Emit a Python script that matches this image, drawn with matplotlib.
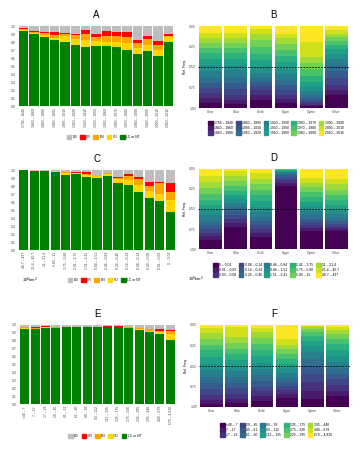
import numpy as np
import matplotlib.pyplot as plt
from matplotlib.patches import Patch

plt.rcParams['font.family'] = ['Liberation Sans', 'DejaVu Sans']

# IUCN categories (bottom -> top of stack)
status = ["LC or NT", "VU", "EN", "CR", "DD"]
status_colors = ["#008000", "#FFD700", "#FFA500", "#FF0000", "#BEBEBE"]
legend_order = ["DD", "CR", "EN", "VU", "LC or NT"]

groups = ["Char", "Silur", "Cichl", "Cypri", "Gymn", "Other"]

# ---- panel A / B : description period
periods = ["1758 – 1840", "1840 – 1860", "1860 – 1880", "1880 – 1895", "1895 – 1910",
           "1910 – 1920", "1920 – 1930", "1930 – 1950", "1950 – 1960", "1960 – 1970",
           "1970 – 1980", "1980 – 1990", "1990 – 2000", "2000 – 2010", "2010 – 2016"]
# cumulative tops per bar: LC/NT, VU, EN, CR (DD fills to 1)
a_lc = [0.937, 0.900, 0.862, 0.824, 0.795, 0.766, 0.732, 0.749, 0.750, 0.736, 0.700, 0.644, 0.686, 0.620, 0.800]
a_vu = [0.950, 0.916, 0.890, 0.850, 0.880, 0.833, 0.820, 0.810, 0.800, 0.795, 0.787, 0.724, 0.766, 0.700, 0.862]
a_en = [0.958, 0.925, 0.910, 0.890, 0.900, 0.883, 0.900, 0.862, 0.874, 0.870, 0.862, 0.787, 0.840, 0.757, 0.874]
a_cr = [0.970, 0.932, 0.930, 0.920, 0.910, 0.904, 0.954, 0.904, 0.937, 0.920, 0.920, 0.828, 0.880, 0.816, 0.900]

b_props = {
    "Char":  [0.065, 0.05, 0.06, 0.06, 0.06, 0.07, 0.08, 0.07, 0.07, 0.07, 0.07, 0.06, 0.06, 0.05, 0.09],
    "Silur": [0.05, 0.05, 0.06, 0.07, 0.07, 0.08, 0.08, 0.07, 0.07, 0.07, 0.06, 0.06, 0.06, 0.06, 0.09],
    "Cichl": [0.10, 0.06, 0.05, 0.05, 0.05, 0.05, 0.06, 0.07, 0.08, 0.08, 0.08, 0.08, 0.08, 0.06, 0.03],
    "Cypri": [0.06, 0.05, 0.05, 0.06, 0.06, 0.06, 0.07, 0.07, 0.08, 0.08, 0.07, 0.07, 0.07, 0.05, 0.10],
    "Gymn":  [0.02, 0.02, 0.02, 0.03, 0.03, 0.04, 0.05, 0.05, 0.06, 0.07, 0.08, 0.08, 0.07, 0.19, 0.19],
    "Other": [0.16, 0.06, 0.06, 0.08, 0.09, 0.08, 0.07, 0.06, 0.06, 0.05, 0.05, 0.04, 0.04, 0.05, 0.05],
}

# ---- panel C / D : range size (10^6 km^2)
ranges = ["0 – 0.01", "0.01 – 0.03", "0.03 – 0.08", "0.08 – 0.14", "0.14 – 0.24",
          "0.24 – 0.46", "0.46 – 0.84", "0.84 – 1.51", "1.51 – 2.41", "2.41 – 3.75",
          "3.75 – 5.80", "5.80 – 11", "11 – 21.4", "21.4 – 40.7", "40.7 – 437"]
c_labels = ranges[::-1]
c_lc = [0.995, 0.975, 0.988, 0.975, 0.938, 0.954, 0.912, 0.900, 0.925, 0.833, 0.817, 0.730, 0.646, 0.617, 0.480]
c_vu = [0.995, 0.975, 0.988, 0.983, 0.958, 0.960, 0.940, 0.930, 0.950, 0.883, 0.875, 0.810, 0.742, 0.700, 0.625]
c_en = [0.995, 0.975, 0.988, 0.983, 0.970, 0.967, 0.954, 0.930, 0.967, 0.900, 0.925, 0.887, 0.804, 0.833, 0.725]
c_cr = [0.995, 0.982, 0.988, 0.983, 0.970, 0.975, 0.970, 0.930, 0.967, 0.908, 0.946, 0.908, 0.846, 0.854, 0.833]

d_props = {
    "Char":  [0.125, 0.055, 0.04, 0.05, 0.05, 0.06, 0.07, 0.07, 0.07, 0.07, 0.07, 0.08, 0.08, 0.09, 0.09],
    "Silur": [0.27, 0.05, 0.05, 0.05, 0.05, 0.05, 0.05, 0.05, 0.05, 0.06, 0.06, 0.06, 0.06, 0.06, 0.03],
    "Cichl": [0.15, 0.05, 0.05, 0.05, 0.05, 0.05, 0.06, 0.07, 0.07, 0.07, 0.07, 0.07, 0.07, 0.07, 0.05],
    "Cypri": [0.79, 0.04, 0.03, 0.03, 0.03, 0.02, 0.02, 0.01, 0.01, 0.01, 0.005, 0.005, 0.0, 0.0, 0.0],
    "Gymn":  [0.22, 0.04, 0.04, 0.04, 0.04, 0.05, 0.05, 0.05, 0.06, 0.06, 0.06, 0.06, 0.06, 0.06, 0.11],
    "Other": [0.22, 0.03, 0.03, 0.03, 0.04, 0.04, 0.05, 0.05, 0.06, 0.06, 0.06, 0.07, 0.07, 0.07, 0.12],
}

# ---- panel E / F : body size
sizes = ["<40 – 7", "7 – 17", "17 – 29", "29 – 45", "45 – 61", "61 – 80", "80 – 93",
         "93 – 112", "112 – 135", "135 – 175", "175 – 226", "226 – 295", "295 – 440",
         "440 – 679", "679 – 4,910"]
e_lc = [0.945, 0.945, 0.962, 0.960, 0.970, 0.970, 0.970, 0.970, 0.970, 0.970, 0.958, 0.937, 0.916, 0.882, 0.810]
e_vu = [0.958, 0.955, 0.970, 0.968, 0.970, 0.970, 0.970, 0.970, 0.970, 0.970, 0.965, 0.950, 0.928, 0.910, 0.880]
e_en = [0.970, 0.967, 0.978, 0.975, 0.975, 0.975, 0.975, 0.975, 0.978, 0.978, 0.972, 0.958, 0.945, 0.930, 0.920]
e_cr = [0.980, 0.975, 0.982, 0.980, 0.978, 0.978, 0.978, 0.978, 0.982, 0.982, 0.978, 0.966, 0.953, 0.945, 0.940]

f_props = {
    "Char":  [0.04, 0.05, 0.06, 0.07, 0.07, 0.08, 0.08, 0.08, 0.08, 0.08, 0.07, 0.07, 0.07, 0.06, 0.04],
    "Silur": [0.05, 0.05, 0.06, 0.07, 0.07, 0.07, 0.07, 0.07, 0.07, 0.07, 0.07, 0.07, 0.07, 0.12, 0.03],
    "Cichl": [0.07, 0.06, 0.06, 0.06, 0.07, 0.07, 0.07, 0.08, 0.08, 0.08, 0.07, 0.07, 0.07, 0.05, 0.04],
    "Cypri": [0.11, 0.05, 0.05, 0.05, 0.05, 0.05, 0.06, 0.06, 0.06, 0.06, 0.06, 0.06, 0.05, 0.07, 0.18],
    "Gymn":  [0.10, 0.10, 0.10, 0.10, 0.10, 0.09, 0.08, 0.07, 0.07, 0.06, 0.05, 0.03, 0.02, 0.02, 0.01],
    "Other": [0.13, 0.06, 0.07, 0.07, 0.07, 0.07, 0.07, 0.07, 0.07, 0.07, 0.06, 0.06, 0.05, 0.04, 0.02],
}

W, H = 360, 453
fig = plt.figure(figsize=(W / 100, H / 100), dpi=100)
TS = 2.4


def rect(x0, y0, x1, y1):
    return [x0 / W, 1 - y1 / H, (x1 - x0) / W, (y1 - y0) / H]


def clean(ax):
    for s in ax.spines.values():
        s.set_visible(False)
    ax.tick_params(length=0, labelsize=TS, pad=1.5, colors="#444444")


def status_panel(r, title, labels, lc, vu, en, cr, leg_y, leg_title=None):
    ax = fig.add_axes(rect(*r))
    x = np.arange(len(labels))
    tops = [np.array(lc), np.array(vu), np.array(en), np.array(cr), np.ones(len(labels))]
    bottom = np.zeros(len(labels))
    for name, col, top in zip(status, status_colors, tops):
        ax.bar(x, top - bottom, bottom=bottom, width=0.88, color=col, linewidth=0)
        bottom = top
    ax.set_xlim(-0.55, len(labels) - 0.45)
    ax.set_ylim(0, 1.0)
    ax.set_yticks(np.arange(0, 1.01, 0.1))
    ax.set_yticklabels([f"{v:.1f}" for v in np.arange(0, 1.01, 0.1)])
    ax.set_xticks(x)
    ax.set_xticklabels(labels, rotation=90)
    clean(ax)
    ax.set_title(title, fontsize=7, pad=6)
    cmap = dict(zip(status, status_colors))
    handles = [Patch(color=cmap[n], label=n) for n in legend_order]
    leg = fig.legend(handles=handles, ncol=5, loc="center", bbox_to_anchor=((r[0] + r[2]) / 2 / W + 0.02, 1 - leg_y / H),
                     fontsize=TS, frameon=False, handlelength=1.4, handleheight=1.4,
                     columnspacing=0.8, handletextpad=0.4)
    if leg_title:
        fig.text(22 / W, 1 - leg_y / H, leg_title, fontsize=3, va="center")
    return ax


def freq_panel(r, title, props, cats, leg_y, leg_title=None):
    ax = fig.add_axes(rect(*r))
    cols = plt.cm.viridis(np.linspace(0, 1, len(cats)))
    x = np.arange(len(groups))
    vals = np.array([props[g] for g in groups], dtype=float)
    vals = vals / vals.sum(axis=1, keepdims=True)
    cum = np.zeros(len(groups))
    for i in range(len(cats)):
        cum = cum + vals[:, i]
        ax.bar(x, vals[:, i], bottom=1 - cum, width=0.9, color=cols[i], linewidth=0)
    ax.axhline(0.5, color="black", ls=(0, (2, 1.5)), lw=0.6)
    ax.set_ylim(1, 0)
    ax.set_xlim(-0.5, len(groups) - 0.5)
    ax.set_yticks([0, 0.25, 0.5, 0.75, 1.0])
    ax.set_yticklabels(["0.00", "0.25", "0.50", "0.75", "1.00"])
    ax.set_xticks(x)
    ax.set_xticklabels(groups)
    ax.set_ylabel("Rel. Freq.", fontsize=TS, labelpad=2)
    clean(ax)
    ax.set_title(title, fontsize=7, pad=6)
    handles = [Patch(color=cols[i], label=c) for i, c in enumerate(cats)]
    fig.legend(handles=handles, ncol=5, loc="center", bbox_to_anchor=(276 / W, 1 - leg_y / H),
               fontsize=TS, frameon=False, handlelength=1.4, handleheight=1.3,
               columnspacing=0.8, handletextpad=0.4, labelspacing=0.25)
    if leg_title:
        fig.text(188 / W, 1 - (leg_y + 9) / H, leg_title, fontsize=3, va="center")
    return ax


status_panel((18, 26, 174, 106), "A", periods, a_lc, a_vu, a_en, a_cr, 137)
freq_panel((198, 26, 349, 108), "B", b_props, periods, 128)
status_panel((18, 170, 176, 250), "C", c_labels, c_lc, c_vu, c_en, c_cr, 280, "10$^6$km$^2$")
freq_panel((198, 169, 349, 249), "D", d_props, ranges, 270, "10$^6$km$^2$")
status_panel((19, 325, 176, 404), "E", sizes, e_lc, e_vu, e_en, e_cr, 436)
freq_panel((199, 325, 350, 407), "F", f_props, sizes, 430)

fig.savefig("out.png", dpi=100)
